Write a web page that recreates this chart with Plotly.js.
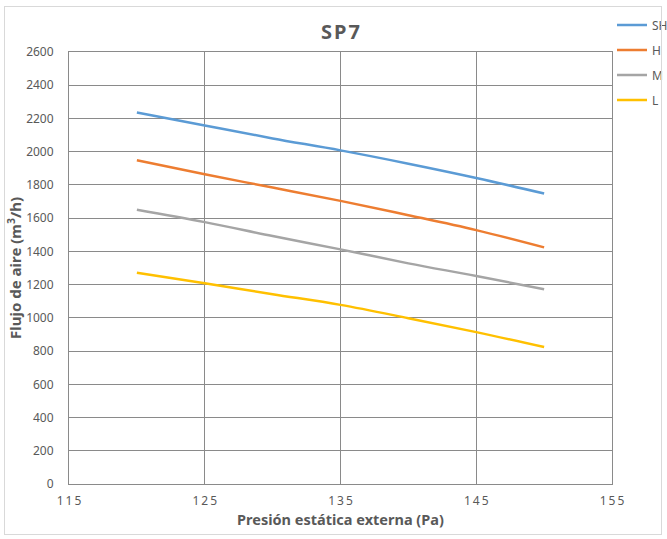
<!DOCTYPE html>
<html><head><meta charset="utf-8">
<script src="https://cdn.plot.ly/plotly-3.0.1.min.js"></script>
<style>body{margin:0;background:#fff}#wrap{position:relative;width:667px;height:539px}#frame{position:absolute;left:4px;top:6px;width:656px;height:527px;border:1px solid #d9d9d9;pointer-events:none}</style>
</head><body>
<div id="wrap"><div id="chart" style="width:667px;height:539px"></div><div id="frame"></div></div>
<script>
const pressure = [120, 125, 130, 135, 140, 145, 150];
const seriesNames = ['SH', 'H', 'M', 'L'];
const SH = [2236, 2158, 2080, 2008, 1928, 1842, 1748];
const H  = [1948, 1864, 1784, 1704, 1618, 1528, 1424];
const M  = [1650, 1576, 1492, 1412, 1328, 1252, 1172];
const L  = [1272, 1208, 1142, 1078, 998, 914, 824];
const colors = ['#5b9bd5', '#ed7d31', '#a5a5a5', '#ffc000'];
const xTicks = [115, 125, 135, 145, 155];

const allY = [SH, H, M, L];
const traces = allY.map((ys, i) => ({
  x: pressure, y: ys, name: seriesNames[i], type: 'scatter', mode: 'lines',
  line: {color: colors[i], width: 2.5, shape: 'spline', smoothing: 1},
  legendgroup: 'g' + i
}));

const font = "Noto Sans, Open Sans, sans-serif";
const layout = {
  width: 667, height: 539,
  margin: {l: 69, r: 55, t: 52, b: 55, autoexpand: false},
  paper_bgcolor: '#ffffff', plot_bgcolor: '#ffffff',
  title: {text: '<b>S\u200AP\u200A7</b>', font: {family: font, size: 20, color: '#595959'}, x: 0.5, xanchor: 'center', y: 0.94, yanchor: 'middle', xref: 'paper'},
  xaxis: {
    range: [115, 155], tickvals: xTicks, ticktext: xTicks.map(v => v.toString().split('').join('\u2009')),
    showgrid: true, gridcolor: '#8a8a8a', gridwidth: 1, zeroline: false,
    showline: true, linecolor: '#8a8a8a', mirror: true, ticks: '', ticklabelstandoff: 6,
    tickfont: {family: font, size: 12, color: '#595959'},
    title: {text: '<b>Presión estática externa (Pa)</b>', font: {family: font, size: 14.5, color: '#595959'}, standoff: 0}
  },
  yaxis: {
    range: [0, 2600], dtick: 200, tick0: 0,
    showgrid: true, gridcolor: '#8a8a8a', gridwidth: 1, zeroline: false,
    showline: true, linecolor: '#8a8a8a', mirror: true, ticks: '', ticklabelstandoff: 12,
    tickfont: {family: font, size: 12, color: '#595959'},
    title: {text: '<b>Flujo de aire (m<sup>3</sup>/h)</b>', font: {family: font, size: 15, color: '#595959'}, standoff: 0}
  },
  showlegend: true,
  legend: {x: 1.0, y: 1.096, xanchor: 'left', yanchor: 'top', font: {family: font, size: 12, color: '#595959'},
    tracegroupgap: 6, itemwidth: 30, bgcolor: 'rgba(0,0,0,0)'}
};
Plotly.newPlot('chart', traces, layout, {displayModeBar: false, staticPlot: true});
</script>
</body></html>
